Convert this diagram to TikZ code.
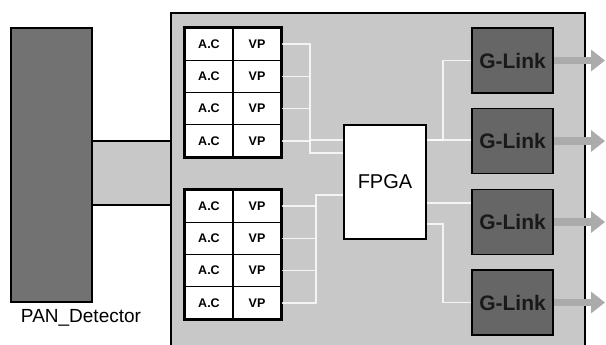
\documentclass[tikz,border=0pt]{standalone}
\usepackage{fontspec}
\setmainfont{Liberation Sans}
\usetikzlibrary{arrows.meta}
\definecolor{boardgray}{HTML}{C8C8C8}
\definecolor{detgray}{HTML}{727272}
\definecolor{linkgray}{HTML}{666666}
\definecolor{arrowgray}{HTML}{ABABAB}
\begin{document}
\begin{tikzpicture}[x=1pt,y=-1pt,
  cell/.style={draw=black,line width=1.2pt,fill=white,minimum width=48pt,minimum height=32.25pt,inner sep=0pt,font=\bfseries\fontsize{12.5}{12.5}\selectfont},
  board/.style={draw=black,line width=2pt,fill=boardgray,anchor=north west,inner sep=0pt},
  glink/.style={draw=black,line width=1.6pt,fill=linkgray,minimum width=81pt,minimum height=65pt,inner sep=0pt,text=black!90,font=\bfseries\fontsize{21}{21}\selectfont},
  wire/.style={white,line width=1.6pt,opacity=0.8},
  fatarrow/.style={arrowgray,line width=7.5pt,-{Triangle[width=21pt,length=14pt]}}]
\useasboundingbox (0,0) rectangle (606,345);
\fill[white] (0,0) rectangle (606,345);
% band between detector and board
\fill[boardgray] (92,141) rectangle (171,205);
\draw[line width=2pt] (92,141) -- (171,141) (92,205) -- (171,205);
% detector
\node[draw=black,line width=2pt,fill=detgray,minimum width=81pt,minimum height=274pt,inner sep=0pt] (det) at (51.5,165) {};
\node[font=\fontsize{19}{19}\selectfont] (detlabel) at (81,318) {PAN\_Detector};
% board
\node[board,minimum width=414pt,minimum height=345pt] (board) at (170,12) {};
% tables
\foreach \i in {1,...,4}{
  \pgfmathsetmacro{\yy}{28+32.25*(\i-0.5)}
  \node[cell] (ac\i) at (209,\yy) {A.C};
  \node[cell] (vp\i) at (257,\yy) {VP};
}
\foreach \i in {5,...,8}{
  \pgfmathsetmacro{\yy}{190+32.25*(\i-4.5)}
  \node[cell] (ac\i) at (209,\yy) {A.C};
  \node[cell] (vp\i) at (257,\yy) {VP};
}
\draw[line width=2.4pt] (ac1.north west) rectangle (vp4.south east);
\draw[line width=2.4pt] (ac5.north west) rectangle (vp8.south east);
% FPGA
\node[draw=black,line width=2pt,fill=white,minimum width=82pt,minimum height=114pt,inner sep=0pt,font=\fontsize{20}{20}\selectfont] (fpga) at (385,182) {FPGA};
% G-Links
\node[glink] (gl1) at (512.5,60.5) {G-Link};
\node[glink] (gl2) at (512.5,141) {G-Link};
\node[glink] (gl3) at (512.5,222) {G-Link};
\node[glink] (gl4) at (512.5,302.5) {G-Link};
% helper coordinates
\coordinate (ub) at (310,0);
\coordinate (lb) at (316,0);
\coordinate (rb) at (443,0);
\coordinate (y140) at (0,140);
\coordinate (y153) at (0,153);
\coordinate (y195) at (0,195);
\coordinate (y203) at (0,203);
\coordinate (y224) at (0,224);
% wires: upper VPs to FPGA
\draw[wire] (vp1.east) -| (ub |- y140) -- (fpga.west |- y140);
\draw[wire] (vp2.east) -- (ub |- vp2.east);
\draw[wire] (vp3.east) -- (ub |- vp3.east);
\draw[wire] (vp4.east) -- (ub |- vp4.east);
\draw[wire] (ub |- y140) |- (fpga.west |- y153);
% wires: lower VPs to FPGA
\draw[wire] (vp8.east) -| (lb |- y195) -- (fpga.west |- y195);
\draw[wire] (vp5.east) -- (lb |- vp5.east);
\draw[wire] (vp6.east) -- (lb |- vp6.east);
\draw[wire] (vp7.east) -- (lb |- vp7.east);
% wires: FPGA to G-Links
\draw[wire] (fpga.east |- y140) -| (rb |- gl1.west) -- (gl1.west);
\draw[wire] (fpga.east |- y140) -- (gl2.west |- y140);
\draw[wire] (fpga.east |- y203) -- (gl3.west |- y203);
\draw[wire] (fpga.east |- y224) -| (rb |- gl4.west) -- (gl4.west);
% output arrows
\coordinate (o1) at (605,60.5);
\coordinate (o2) at (605,141);
\coordinate (o3) at (605,222);
\coordinate (o4) at (605,302.5);
\draw[fatarrow] (gl1.east) -- (o1);
\draw[fatarrow] (gl2.east) -- (o2);
\draw[fatarrow] (gl3.east) -- (o3);
\draw[fatarrow] (gl4.east) -- (o4);
\end{tikzpicture}
\end{document}
